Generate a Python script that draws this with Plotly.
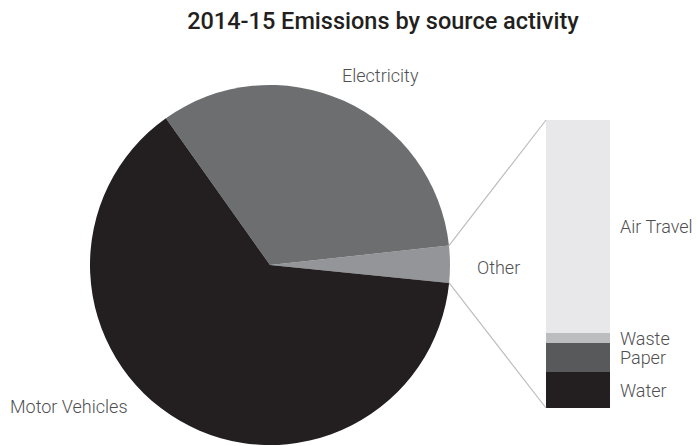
import math
import plotly.graph_objects as go

# Pie: share of emissions by source activity (%)
pie_labels = ["Other", "Electricity", "Motor Vehicles"]
pie_values = [3.3, 33.1, 63.6]
pie_colors = ["#939598", "#6d6e70", "#231f20"]

# Breakdown of "Other" (% of Other), stacked bottom to top
other_labels = ["Water", "Paper", "Waste", "Air Travel"]
other_values = [12.5, 10.0, 3.5, 74.0]
other_colors = ["#231f20", "#58595b", "#bcbdbf", "#e8e8ea"]

W, H = 698, 446
label_font = dict(family="Roboto, DejaVu Sans, sans-serif", size=18, color="#4f5052", weight=300)

# pie placement (pixels), converted to paper fractions
cx, cy, R = 270, 265, 180
pie_dom_x = [(cx - R) / W, (cx + R) / W]
pie_dom_y = [(H - (cy + R)) / H, (H - (cy - R)) / H]

# the "Other" slice spans start_angle..end_angle (degrees, counterclockwise from east)
other_share = pie_values[0] / sum(pie_values) * 360
start_angle = -5.7
end_angle = start_angle + other_share
# with counterclockwise direction, rotation marks the end edge of the first slice
rotation = 90 - end_angle

fig = go.Figure()
fig.add_trace(go.Pie(
    labels=pie_labels, values=pie_values, sort=False,
    direction="counterclockwise", rotation=rotation,
    marker=dict(colors=pie_colors, line=dict(width=0)),
    textinfo="none", hoverinfo="label+percent",
    domain=dict(x=pie_dom_x, y=pie_dom_y), showlegend=False,
))

for lab, val, col in zip(other_labels, other_values, other_colors):
    fig.add_trace(go.Bar(
        x=[0], y=[val], name=lab, marker=dict(color=col, line=dict(width=0)),
        width=1, xaxis="x", yaxis="y", showlegend=False,
    ))

bar_x0, bar_x1 = 546, 610
bar_top, bar_bot = 120, 408

fig.update_layout(
    width=W, height=H, margin=dict(l=0, r=0, t=0, b=0),
    paper_bgcolor="white", plot_bgcolor="white", barmode="stack",
    xaxis=dict(domain=[bar_x0 / W, bar_x1 / W], range=[-0.5, 0.5], visible=False, fixedrange=True),
    yaxis=dict(domain=[(H - bar_bot) / H, (H - bar_top) / H], range=[0, sum(other_values)],
               visible=False, fixedrange=True),
    title=dict(text="2014-15 Emissions by source activity", x=383 / W, xanchor="center",
               y=1 - 21 / H, yanchor="middle",
               font=dict(family="Roboto, DejaVu Sans, sans-serif", size=23.5, color="#231f20",
                         weight=500)),
)

# connector lines from the edge of the "Other" slice to the bar
for ang, by in [(end_angle, bar_top), (start_angle, bar_bot)]:
    px = cx + R * math.cos(math.radians(ang))
    py = cy - R * math.sin(math.radians(ang))
    fig.add_shape(type="line", xref="paper", yref="paper",
                  x0=px / W, y0=1 - py / H, x1=bar_x0 / W, y1=1 - by / H,
                  line=dict(color="#bcbdbf", width=1.2))

annotations = [
    dict(text="Electricity", x=380 / W, y=1 - 75 / H, xanchor="center", yanchor="middle"),
    dict(text="Motor Vehicles", x=69 / W, y=1 - 406 / H, xanchor="center", yanchor="middle"),
    dict(text="Other", x=498 / W, y=1 - 267 / H, xanchor="center", yanchor="middle"),
]
for a in annotations:
    fig.add_annotation(xref="paper", yref="paper", showarrow=False, font=label_font, **a)

cum = 0
for lab, val in zip(other_labels, other_values):
    mid = cum + val / 2
    cum += val
    fig.add_annotation(text=lab, xref="x", yref="y", x=0.5, y=mid, xanchor="left",
                       yanchor="middle", xshift=8, showarrow=False, font=label_font)

fig.write_html("out.html")
